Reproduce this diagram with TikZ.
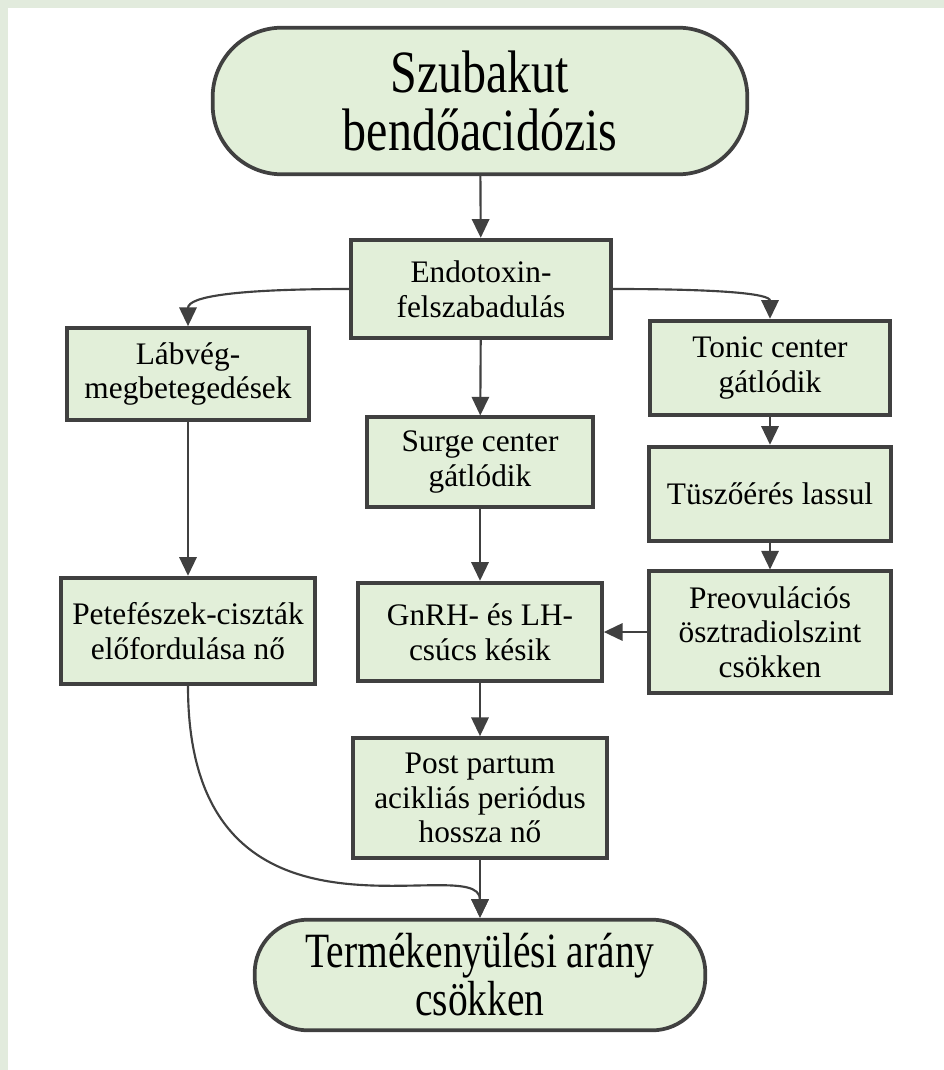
\documentclass[tikz,border=0pt]{standalone}
\usepackage{fontspec}
\setmainfont{Liberation Serif}
\newfontfamily\narrowserif[FakeStretch=0.8]{Liberation Serif}
\usepackage{tikz}
\usetikzlibrary{arrows.meta,positioning}
\definecolor{framegreen}{HTML}{E2EBDD}
\definecolor{boxgreen}{HTML}{E2EFD9}
\definecolor{edgegray}{HTML}{404040}
\tikzset{
  flowbox/.style={draw=edgegray,fill=boxgreen,line width=2.8pt,align=center,inner sep=0pt,
    font=\fontsize{23.5}{26}\selectfont},
  endbox/.style={draw=edgegray,fill=boxgreen,line width=2.8pt,align=center,inner sep=0pt},
  flowarrow/.style={-{Triangle[length=14pt,width=13pt]},line width=1.6pt,draw=edgegray}
}

\begin{document}
\begin{tikzpicture}[x=0.75pt,y=-0.75pt]
  \fill[framegreen] (0,0) rectangle (944,1070);
  \fill[white] (8,8) rectangle (944,1070);
  \node[endbox,minimum width=401pt,minimum height=110pt,rounded corners=52pt,
    font=\narrowserif\fontsize{45}{43}\selectfont] (acid) at (480,101) {Szubakut\\bendőacidózis};
  \node[flowbox,minimum width=195pt,minimum height=74pt] (ent) at (481,289) {Endotoxin-\\felszabadulás};
  \node[flowbox,minimum width=182pt,minimum height=69pt] (lab) at (188,374) {Lábvég-\\megbetegedések};
  \node[flowbox,minimum width=180pt,minimum height=71pt] (tonic) at (770,368) {Tonic center\\gátlódik};
  \node[flowbox,minimum width=170pt,minimum height=67pt] (surge) at (480,462) {Surge center\\gátlódik};
  \node[flowbox,minimum width=182pt,minimum height=71pt] (tusz) at (770,494) {Tüszőérés lassul};
  \node[flowbox,minimum width=191pt,minimum height=80pt] (pete) at (188,631) {Petefészek-ciszták\\előfordulása nő};
  \node[flowbox,minimum width=183pt,minimum height=74pt] (gnrh) at (480,632) {GnRH- és LH-\\csúcs késik};
  \node[flowbox,minimum width=181pt,minimum height=91pt] (preov) at (770,632) {Preovulációs\\ösztradiolszint\\csökken};
  \node[flowbox,minimum width=191pt,minimum height=90pt] (post) at (480,798) {Post partum\\acikliás periódus\\hossza nő};
  \node[endbox,minimum width=338pt,minimum height=83pt,rounded corners=40pt,
    font=\narrowserif\fontsize{37}{36}\selectfont] (bot) at (480,975) {Termékenyülési arány\\csökken};
  \draw[flowarrow] (acid) -- (ent);
  \draw[flowarrow] (ent.west) .. controls +(-110,0) and +(0,-30) .. (lab.north);
  \draw[flowarrow] (ent.east) .. controls +(110,0) and +(0,-25) .. (tonic.north);
  \draw[flowarrow] (ent) -- (surge);
  \draw[flowarrow] (tonic) -- (tusz);
  \draw[flowarrow] (tusz) -- (preov);
  \draw[flowarrow] (lab) -- (pete);
  \draw[flowarrow] (surge) -- (gnrh);
  \draw[flowarrow] (preov) -- (gnrh);
  \draw[flowarrow] (gnrh) -- (post);
  \draw[flowarrow] (post) -- (bot);
  \draw[flowarrow] (pete.south) .. controls +(0,290) and +(0,-70) .. (bot.north);
\end{tikzpicture}
\end{document}
